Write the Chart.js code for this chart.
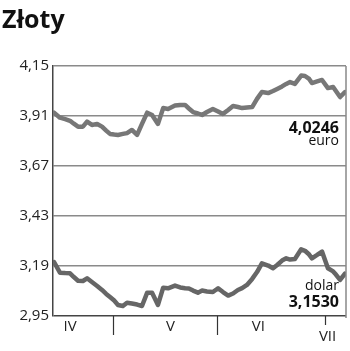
<!DOCTYPE html>
<html>
<head>
<meta charset="utf-8">
<script src="https://cdn.jsdelivr.net/npm/chart.js@4/dist/chart.umd.min.js"></script>
<style>
html,body{margin:0;padding:0;background:#fff;}
#wrap{width:350px;height:351px;}
</style>
</head>
<body>
<div id="wrap"><canvas id="c" width="350" height="351"></canvas></div>
<script>
// Days counted from 1 April
const days = [13.0,14.7,16.2,17.6,18.7,19.9,21.3,22.5,23.9,25.4,26.8,28.0,29.1,30.3,31.4,32.8,34.0,35.4,36.9,38.3,39.8,41.2,42.9,44.4,45.8,47.8,49.3,50.7,51.8,53.0,54.4,55.6,57.0,58.7,60.2,61.6,63.1,64.5,65.9,67.1,68.5,70.0,71.4,72.8,74.6,76.0,77.2,78.6,79.8,80.9,82.3,84.1,85.2,86.4,87.2,88.7,90.1,91.8,93.3,94.1,95.3,96.7];
const euro = [3.926,3.902,3.895,3.887,3.873,3.859,3.859,3.883,3.867,3.872,3.859,3.840,3.824,3.821,3.819,3.824,3.828,3.843,3.819,3.872,3.926,3.915,3.872,3.948,3.944,3.960,3.963,3.963,3.946,3.929,3.922,3.915,3.929,3.944,3.932,3.920,3.939,3.958,3.953,3.948,3.951,3.953,3.992,4.025,4.020,4.030,4.040,4.052,4.064,4.073,4.064,4.104,4.102,4.088,4.068,4.076,4.083,4.044,4.049,4.030,4.001,4.0246];
const dolar = [3.209,3.158,3.156,3.155,3.137,3.119,3.118,3.131,3.113,3.094,3.075,3.056,3.041,3.024,3.003,2.998,3.014,3.010,3.005,2.998,3.062,3.062,3.003,3.086,3.083,3.096,3.087,3.083,3.082,3.072,3.062,3.072,3.068,3.065,3.083,3.065,3.048,3.058,3.075,3.084,3.099,3.128,3.161,3.203,3.192,3.179,3.195,3.216,3.227,3.221,3.224,3.270,3.263,3.245,3.227,3.243,3.259,3.179,3.164,3.149,3.123,3.153];
const yTicks = [2.95,3.19,3.43,3.67,3.91,4.15];
const monthStarts = [30,60,91];
const monthNames = ["IV","V","VI","VII"];
const monthLabelDays = [17.6,46.5,71.8,91.7];
const seriesNames = ["euro","dolar"];
const lastValues = ["4,0246","3,1530"];
const xRange = [12.7,97.0];

const FONT = "'Open Sans', 'DejaVu Sans', sans-serif";

const decor = {
  id:'decor',
  afterDraw(chart){
    const ctx = chart.ctx, x = chart.scales.x, y = chart.scales.y, a = chart.chartArea;
    ctx.save();
    // title
    ctx.fillStyle = '#111';
    ctx.font = 'bold 25px ' + FONT;
    ctx.textAlign = 'left'; ctx.textBaseline = 'alphabetic';
    ctx.fillText('Złoty', 2, 28);
    // right border
    ctx.strokeStyle = '#888'; ctx.lineWidth = 1.5;
    ctx.beginPath(); ctx.moveTo(a.right, a.top); ctx.lineTo(a.right, a.bottom + 2); ctx.stroke();
    // month ticks
    ctx.strokeStyle = '#333'; ctx.lineWidth = 1.2;
    monthStarts.forEach((d,i) => {
      const px = Math.round(x.getPixelForValue(d)) + 0.5;
      const len = i === monthStarts.length - 1 ? 9 : 19;
      ctx.beginPath(); ctx.moveTo(px, a.bottom); ctx.lineTo(px, a.bottom + len); ctx.stroke();
    });
    // month labels
    ctx.fillStyle = '#222'; ctx.font = '15px ' + FONT;
    ctx.textAlign = 'center'; ctx.textBaseline = 'middle';
    monthNames.forEach((m,i) => {
      const px = x.getPixelForValue(monthLabelDays[i]);
      const py = i === monthNames.length - 1 ? a.bottom + 21 : a.bottom + 11;
      ctx.fillText(m, px, py);
    });
    // end value annotations
    const rx = a.right - 7;
    ctx.textAlign = 'right';
    ctx.font = 'bold 16px ' + FONT; ctx.fillStyle = '#111';
    ctx.fillText(lastValues[0], rx, 128);
    ctx.font = '14px ' + FONT;
    ctx.fillText(seriesNames[0], rx, 141);
    ctx.fillText(seriesNames[1], rx, 286);
    ctx.font = 'bold 16px ' + FONT;
    ctx.fillText(lastValues[1], rx, 302);
    ctx.restore();
  }
};

new Chart(document.getElementById('c'), {
  type: 'line',
  data: {
    datasets: [
      { label: seriesNames[0], data: days.map((d,i)=>({x:d,y:euro[i]})), borderColor:'#777', borderWidth:4.5, pointRadius:0, tension:0, borderJoinStyle:'round', borderCapStyle:'round' },
      { label: seriesNames[1], data: days.map((d,i)=>({x:d,y:dolar[i]})), borderColor:'#666', borderWidth:4.5, pointRadius:0, tension:0, borderJoinStyle:'round', borderCapStyle:'round' }
    ]
  },
  options: {
    responsive:false, animation:false, devicePixelRatio:1,
    layout:{ padding:{ top:66, left:0, right:4, bottom:35 } },
    plugins:{ legend:{display:false}, title:{display:false}, tooltip:{enabled:false} },
    scales:{
      x:{ type:'linear', min:xRange[0], max:xRange[1], display:false },
      y:{
        min:yTicks[0], max:yTicks[yTicks.length-1],
        afterBuildTicks(s){ s.ticks = yTicks.map(v=>({value:v})); },
        afterFit(s){ s.width = 53; },
        grid:{ drawTicks:false, color:(c)=> c.index===0 ? '#444' : '#8a8a8a', lineWidth:1.5 },
        border:{ display:true, color:'#444', width:1.5 },
        ticks:{ padding:4, color:'#222', font:{ family:FONT, size:15 }, callback:(v)=> v.toFixed(2).replace('.',',') }
      }
    }
  },
  plugins:[decor]
});
</script>
</body>
</html>
